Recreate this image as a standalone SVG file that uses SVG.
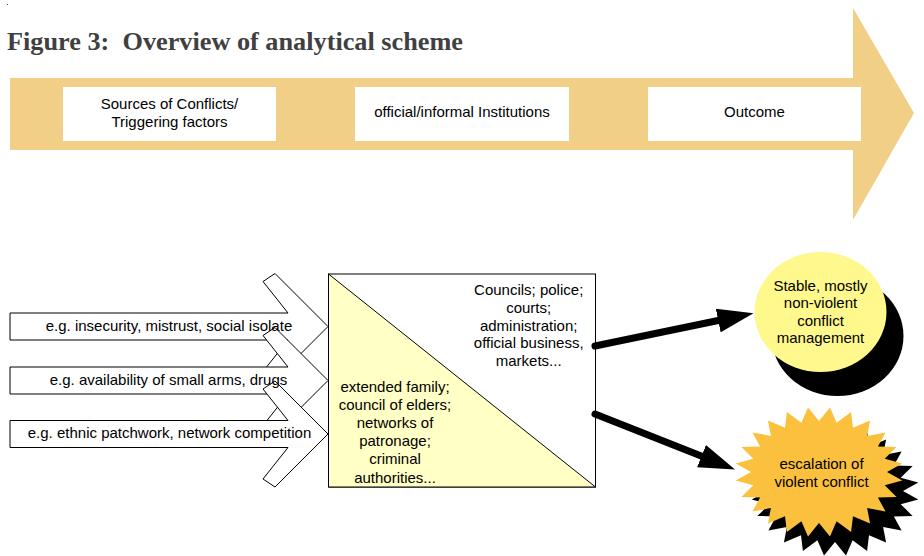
<svg xmlns="http://www.w3.org/2000/svg" width="924" height="556" viewBox="0 0 924 556">
<defs>
<style>
.t{font-family:"Liberation Sans",Arial,sans-serif;font-size:15px;fill:#000;text-anchor:middle}
.title{font-family:"Liberation Serif","Times New Roman",serif;font-weight:bold;font-size:25px;fill:#404040;white-space:pre}
.chev{fill:#fff;stroke:#000;stroke-width:1}
.wbox{fill:#fff}
.conn{stroke:#000;stroke-width:7;stroke-linecap:round;fill:none}
</style>
<marker id="head" markerUnits="userSpaceOnUse" markerWidth="36" markerHeight="24" refX="16" refY="12" orient="auto">
<path d="M0,0 L36,12 L0,24 Z" fill="#000"/>
</marker>
<path id="star" d="M887,472 L902.3,463.5 L884.7,458.8 L896.6,447.1 L877.9,446.5 L885.6,432.4 L867.1,435.9 L870.1,420.4 L853,427.8 L851.1,411.9 L836.6,422.7 L830,407.6 L819,421 L808,407.6 L801.4,422.7 L786.9,411.9 L785,427.8 L767.9,420.4 L770.9,435.9 L752.4,432.4 L760.1,446.5 L741.4,447.1 L753.3,458.8 L735.7,463.5 L751,472 L735.7,480.5 L753.3,485.2 L741.4,496.9 L760.1,497.5 L752.4,511.6 L770.9,508.1 L767.9,523.6 L785,516.2 L786.9,532.1 L801.4,521.3 L808,536.4 L819,523 L830,536.4 L836.6,521.3 L851.1,532.1 L853,516.2 L870.1,523.6 L867.1,508.1 L885.6,511.6 L877.9,497.5 L896.6,496.9 L884.7,485.2 L902.3,480.5 Z"/>
</defs>
<rect x="0" y="0" width="924" height="556" fill="#fff"/>
<rect x="7" y="4" width="1" height="1" fill="#404040"/>
<text class="title" x="7" y="50" xml:space="preserve" textLength="456" lengthAdjust="spacingAndGlyphs">Figure 3:  Overview of analytical scheme</text>

<g id="timeline">
<polygon points="10,78 853,78 853,8 914,113 853,220 853,150 10,150" fill="#F2CF86"/>
</g>
<g id="stage-sources">
<rect class="wbox" x="63" y="87" width="213" height="54"/>
<text class="t" x="169.5" y="109">Sources of Conflicts/</text>
<text class="t" x="169.5" y="126.7">Triggering factors</text>
</g>
<g id="stage-institutions">
<rect class="wbox" x="355" y="87" width="214" height="54"/>
<text class="t" x="462" y="117.3">official/informal Institutions</text>
</g>
<g id="stage-outcome">
<rect class="wbox" x="648" y="87" width="213" height="54"/>
<text class="t" x="754.5" y="117.3">Outcome</text>
</g>

<g id="source-1">
<path class="chev" d="M10,313 L288,313 L263,281.5 L275,273.5 L328,326.5 L275,379.5 L263,371.5 L288,340 L10,340 Z"/>
</g>
<g id="source-2">
<path class="chev" d="M10,367 L288,367 L263,335.5 L275,327.5 L328,380.5 L275,433.5 L263,425.5 L288,394 L10,394 Z"/>
</g>
<g id="source-3">
<path class="chev" d="M10,420.5 L288,420.5 L263,389 L275,381 L328,434 L275,487 L263,479 L288,447.5 L10,447.5 Z"/>
</g>
<g id="source-labels">
<text class="t" x="169" y="331">e.g. insecurity, mistrust, social isolate</text>
<text class="t" x="168.5" y="384.5">e.g. availability of small arms, drugs</text>
<text class="t" x="169.5" y="438">e.g. ethnic patchwork, network competition</text>
</g>

<g id="institutions">
<rect x="328.5" y="274" width="267" height="213" fill="#fff" stroke="#000" stroke-width="1"/>
<polygon points="328.5,274 595.5,487 328.5,487" fill="#FFFFC6" stroke="#000" stroke-width="1"/>
<text class="t" x="528.7" y="295">Councils; police;</text>
<text class="t" x="528.7" y="312.8">courts;</text>
<text class="t" x="528.7" y="330.5">administration;</text>
<text class="t" x="528.7" y="348.2">official business,</text>
<text class="t" x="528.7" y="366">markets...</text>
<text class="t" x="395" y="391.5">extended family;</text>
<text class="t" x="395" y="409.7">council of elders;</text>
<text class="t" x="395" y="427.9">networks of</text>
<text class="t" x="395" y="446.1">patronage;</text>
<text class="t" x="395" y="464.3">criminal</text>
<text class="t" x="395" y="482.5">authorities...</text>
</g>

<g id="connectors">
<line class="conn" x1="595" y1="346" x2="733.9" y2="317.3" marker-end="url(#head)"/>
<line class="conn" x1="595" y1="414" x2="716.4" y2="462.1" marker-end="url(#head)"/>
</g>

<g id="outcome-stable">
<ellipse cx="837.5" cy="336" rx="66" ry="60" fill="#000"/>
<ellipse cx="820.5" cy="312" rx="66" ry="60" fill="#FFF88C"/>
<text class="t" x="820.5" y="290.7">Stable, mostly</text>
<text class="t" x="820.5" y="308.3">non-violent</text>
<text class="t" x="820.5" y="326">conflict</text>
<text class="t" x="820.5" y="343.3">management</text>
</g>

<g id="outcome-violent">
<use href="#star" transform="translate(16,19)" fill="#000"/>
<use href="#star" fill="#FBC03D"/>
<text class="t" x="821.5" y="469.3">escalation of</text>
<text class="t" x="821.5" y="486.7">violent conflict</text>
</g>
</svg>
